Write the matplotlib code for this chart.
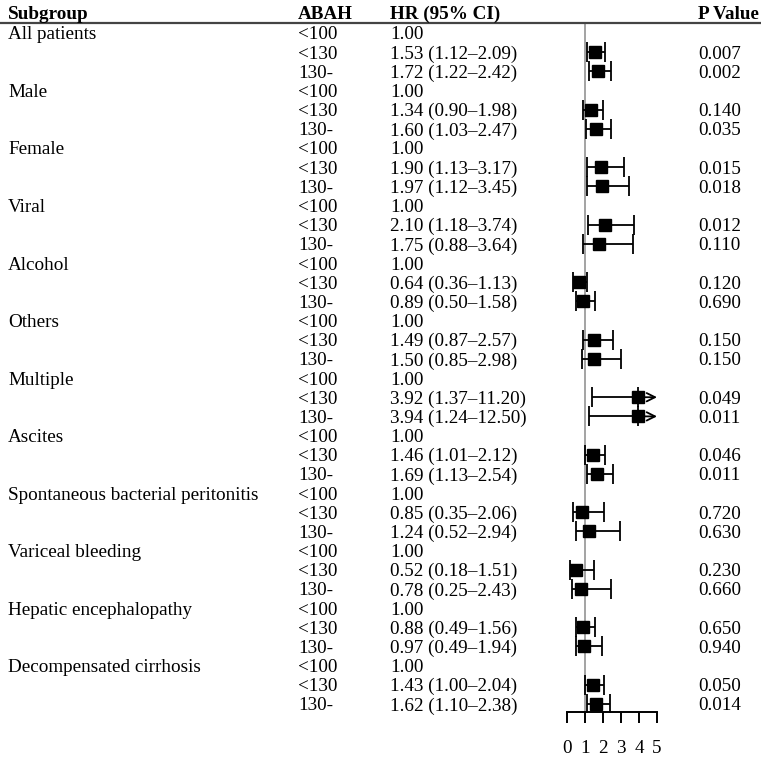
import matplotlib
matplotlib.use("Agg")
import matplotlib.pyplot as plt
from matplotlib.transforms import blended_transform_factory

plt.rcParams['font.family'] = ['Liberation Serif', 'DejaVu Serif']
plt.rcParams['font.size'] = 13.8

subgroups = ["All patients", "Male", "Female", "Viral", "Alcohol", "Others", "Multiple",
             "Ascites", "Spontaneous bacterial peritonitis", "Variceal bleeding",
             "Hepatic encephalopathy", "Decompensated cirrhosis"]
abah_levels = ["<100", "<130", "130-"]
headers = ["Subgroup", "ABAH", "HR (95% CI)", "P Value"]

# ABAH <130 vs <100 (reference)
hr_130 = [1.53, 1.34, 1.90, 2.10, 0.64, 1.49, 3.92, 1.46, 0.85, 0.52, 0.88, 1.43]
lo_130 = [1.12, 0.90, 1.13, 1.18, 0.36, 0.87, 1.37, 1.01, 0.35, 0.18, 0.49, 1.00]
hi_130 = [2.09, 1.98, 3.17, 3.74, 1.13, 2.57, 11.20, 2.12, 2.06, 1.51, 1.56, 2.04]
p_130 = ["0.007", "0.140", "0.015", "0.012", "0.120", "0.150",
         "0.049", "0.046", "0.720", "0.230", "0.650", "0.050"]

# ABAH 130- vs <100 (reference)
hr_hi = [1.72, 1.60, 1.97, 1.75, 0.89, 1.50, 3.94, 1.69, 1.24, 0.78, 0.97, 1.62]
lo_hi = [1.22, 1.03, 1.12, 0.88, 0.50, 0.85, 1.24, 1.13, 0.52, 0.25, 0.49, 1.10]
hi_hi = [2.42, 2.47, 3.45, 3.64, 1.58, 2.98, 12.50, 2.54, 2.94, 2.43, 1.94, 2.38]
p_hi = ["0.002", "0.035", "0.018", "0.110", "0.690", "0.150",
        "0.011", "0.011", "0.630", "0.660", "0.940", "0.014"]

x_ticks = [0, 1, 2, 3, 4, 5]
ref_hr = 1.0

W, H = 767, 759
fig = plt.figure(figsize=(W / 100, H / 100), dpi=100)
ax = fig.add_axes([567 / W, 47 / H, 90 / W, 712 / H])
xmax = x_ticks[-1]
ax.set_xlim(x_ticks[0], xmax)
ax.set_ylim(36.42, -0.72)

trans = blended_transform_factory(fig.transFigure, ax.transData)
col_x = [8 / W, 298 / W, 390 / W, 698 / W]

# header row
for x, h in zip(col_x, headers):
    ax.text(x, -0.07, h, transform=trans, ha='left', va='center_baseline', fontweight='bold')
line_y = 0.48
ax.plot([0, 761 / W], [line_y, line_y], transform=trans, color='#444444', lw=1.6,
        clip_on=False, solid_capstyle='butt')
ax.plot([ref_hr, ref_hr], [line_y, 36.42], color='#8a8a8a', lw=1.1, clip_on=False, zorder=1)


def draw_row(y, hr, lo, hi):
    if hi > xmax:
        ax.errorbar([hr], [y], xerr=[[hr - lo], [0]], fmt='none', ecolor='black',
                    elinewidth=1.3, capsize=7, capthick=1.3, zorder=2)
        ax.annotate("", xy=(xmax, y), xytext=(hr, y),
                    arrowprops=dict(arrowstyle='->', color='black', lw=1.3,
                                    shrinkA=0, shrinkB=0, mutation_scale=15),
                    zorder=2)
    else:
        ax.errorbar([hr], [y], xerr=[[hr - lo], [hi - hr]], fmt='none', ecolor='black',
                    elinewidth=1.3, capsize=7, capthick=1.3, zorder=2)
    ax.plot([hr], [y], marker='s', color='black', markersize=8, zorder=3, clip_on=False)


for i, name in enumerate(subgroups):
    base = 1 + 3 * i
    ax.text(col_x[0], base, name, transform=trans, va='center_baseline')
    for k, lvl in enumerate(abah_levels):
        ax.text(col_x[1], base + k, lvl, transform=trans, va='center_baseline')
    ax.text(col_x[2], base, "1.00", transform=trans, va='center_baseline')

    for k, (hr, lo, hi, p) in enumerate([(hr_130[i], lo_130[i], hi_130[i], p_130[i]),
                                          (hr_hi[i], lo_hi[i], hi_hi[i], p_hi[i])]):
        y = base + 1 + k
        ax.text(col_x[2], y, f"{hr:.2f} ({lo:.2f}\u2013{hi:.2f})", transform=trans,
                va='center_baseline')
        ax.text(col_x[3], y, p, transform=trans, va='center_baseline')
        draw_row(y, hr, lo, hi)

for s in ['top', 'left', 'right']:
    ax.spines[s].set_visible(False)
ax.spines['bottom'].set_linewidth(1.4)
ax.set_yticks([])
ax.set_xticks(x_ticks)
ax.set_xticklabels([str(t) for t in x_ticks])
ax.tick_params(axis='x', direction='out', length=8, width=1.4, pad=12.5)
ax.patch.set_alpha(0)

fig.savefig("out.png", dpi=100)
